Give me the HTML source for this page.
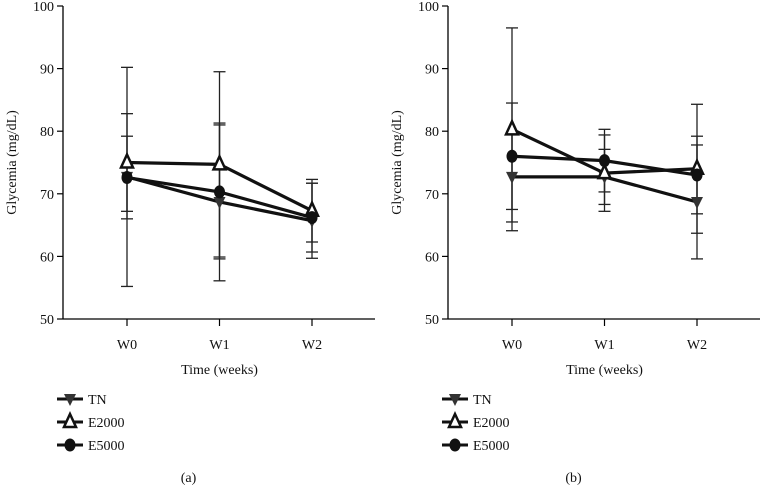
<!DOCTYPE html>
<html><head><meta charset="utf-8"><style>
html,body{margin:0;padding:0;background:#fff;}
svg{display:block;font-family:"Liberation Serif",serif;}
</style></head><body>
<svg id="chart" width="769" height="485"></svg>
<script>
const categories=["W0","W1","W2"];
const yTicks=[50,60,70,80,90,100];
const seriesNames=["TN","E2000","E5000"];
const aTN=[72.7,68.7,65.7];
const aE2000=[75.0,74.7,67.3];
const aE5000=[72.6,70.3,66.2];
const aTNerr=[17.5,12.6,6.0];
const aE2000err=[7.8,14.8,5.0];
const aE5000err=[6.6,10.7,5.5];
const bTN=[72.7,72.7,68.7];
const bE2000=[80.3,73.3,74.0];
const bE5000=[76.0,75.3,73.0];
const bTNerr=[7.2,4.4,9.1];
const bE2000err=[16.2,6.1,10.3];
const bE5000err=[8.5,5.0,6.2];

const NS="http://www.w3.org/2000/svg";
const svg=document.getElementById("chart");
function mk(tag,attrs,parent){const e=document.createElementNS(NS,tag);for(const k in attrs)e.setAttribute(k,attrs[k]);(parent||svg).appendChild(e);return e;}

function panel(ox,label,data,errs,letter){
  const g=mk("g",{});
  
  
  const y0=319,y1=6,xl=ox,xr=ox+312;
  const ys=v=>y0-(v-50)/50*(y0-y1);
  const xs=i=>ox+64+i*92.5;
  const yax=mk("line",{x1:xl,y1:y1,x2:xl,y2:y0,stroke:"#000","stroke-width":1.3},g);
  
  
  const xax=mk("line",{x1:xl,y1:y0,x2:xr,y2:y0,stroke:"#000","stroke-width":1.3},g);
  
  
  yTicks.forEach(t=>{
    mk("line",{x1:xl-6,x2:xl,y1:ys(t),y2:ys(t),stroke:"#000","stroke-width":1.2},g);
    const tx=mk("text",{x:xl-9,y:ys(t)+5,"text-anchor":"end","font-size":14,fill:"#111"},g);
    tx.textContent=t;
    
    
  });
  categories.forEach((c,i)=>{
    mk("line",{x1:xs(i),x2:xs(i),y1:y0,y2:y0+7,stroke:"#000","stroke-width":1.2},g);
    const tx=mk("text",{x:xs(i),y:y0+30,"text-anchor":"middle","font-size":14,fill:"#111"},g);
    tx.textContent=c;
    
    
  });
  const xt=mk("text",{x:xs(1),y:374,"text-anchor":"middle","font-size":14,fill:"#111"},g);
  xt.textContent="Time (weeks)";
  
  
  const yt=mk("text",{x:0,y:0,"text-anchor":"middle","font-size":14,fill:"#111",transform:`translate(${ox-47},${ys(75)}) rotate(-90)`},g);
  yt.textContent="Glycemia (mg/dL)";
  
  
  // error bars
  data.forEach((s,si)=>{
    s.forEach((v,i)=>{
      const e=errs[si][i],x=xs(i);
      const eb=mk("g",{stroke:"#222","stroke-width":1.3},g);
      
      
      mk("line",{x1:x,x2:x,y1:ys(v+e),y2:ys(v-e)},eb);
      mk("line",{x1:x-6,x2:x+6,y1:ys(v+e),y2:ys(v+e)},eb);
      mk("line",{x1:x-6,x2:x+6,y1:ys(v-e),y2:ys(v-e)},eb);
    });
  });
  data.forEach((s,si)=>{
    const pl=mk("polyline",{points:s.map((v,i)=>xs(i)+","+ys(v)).join(" "),fill:"none",stroke:"#111","stroke-width":3.2},g);
    
    
    s.forEach((v,i)=>marker(g,si,xs(i),ys(v)));
  });
  // legend
  seriesNames.forEach((n,si)=>{
    const ly=[399,422,445][si];
    const lg=mk("g",{},g);
    
    
    mk("line",{x1:ox-6,x2:ox+20,y1:ly,y2:ly,stroke:"#111","stroke-width":3},lg);
    marker(lg,si,ox+7,ly);
    const t=mk("text",{x:ox+25,y:ly+5,"font-size":14,fill:"#111"},lg);
    t.textContent=n;
  });
  const pl=mk("text",{x:xs(1)-31,y:482,"text-anchor":"middle","font-size":14,fill:"#111"},g);
  pl.textContent=label;
  
  
}
function marker(g,si,x,y){
  let m;
  if(si===0) m=mk("path",{d:`M${x-6},${y-5} L${x+6},${y-5} L${x},${y+7} Z`,fill:"#333"},g);
  else if(si===1) m=mk("path",{d:`M${x},${y-8} L${x+6},${y+5} L${x-6},${y+5} Z`,fill:"#fff",stroke:"#111","stroke-width":2.5},g);
  else m=mk("ellipse",{cx:x,cy:y,rx:5.5,ry:6.5,fill:"#111"},g);
  
  
}
panel(63,"(a)",[aTN,aE2000,aE5000],[aTNerr,aE2000err,aE5000err],"a");
panel(448,"(b)",[bTN,bE2000,bE5000],[bTNerr,bE2000err,bE5000err],"b");
</script>
</body></html>
